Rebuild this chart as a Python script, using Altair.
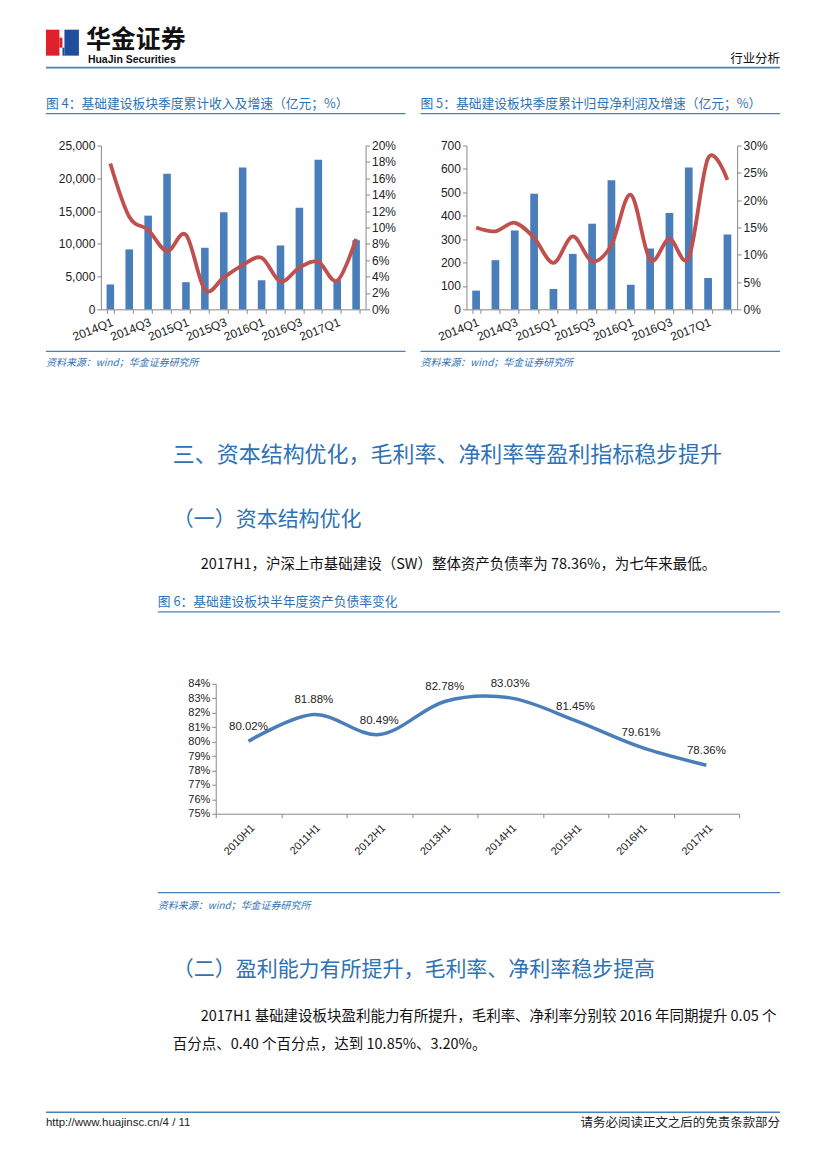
import altair as alt
import pandas as pd

# ---------------- data ----------------
quarters = ["2014Q1", "2014Q2", "2014Q3", "2014Q4", "2015Q1", "2015Q2", "2015Q3",
            "2015Q4", "2016Q1", "2016Q2", "2016Q3", "2016Q4", "2017Q1", "2017Q2"]
revenue = [3800, 9150, 14300, 20700, 4150, 9400, 14800, 21650, 4450, 9750, 15500, 22850, 4450, 10550]
revenue_growth = [17.8, 11.3, 9.7, 7.1, 9.1, 2.4, 3.9, 5.4, 6.3, 3.4, 5.1, 5.8, 3.5, 8.6]
profit = [80, 210, 337, 494, 87, 237, 366, 552, 105, 260, 412, 606, 134, 320]
profit_growth = [15.0, 14.3, 15.85, 13.1, 8.5, 13.35, 8.8, 11.8, 21.0, 9.1, 12.9, 9.5, 27.7, 23.7]
halves = ["2010H1", "2011H1", "2012H1", "2013H1", "2014H1", "2015H1", "2016H1", "2017H1"]
debt_ratio = [80.02, 81.88, 80.49, 82.78, 83.03, 81.45, 79.61, 78.36]

rev_ticks = [0, 5000, 10000, 15000, 20000, 25000]
rev_growth_ticks = [0, 2, 4, 6, 8, 10, 12, 14, 16, 18, 20]
profit_ticks = [0, 100, 200, 300, 400, 500, 600, 700]
profit_growth_ticks = [0, 5, 10, 15, 20, 25, 30]
debt_ticks = [75, 76, 77, 78, 79, 80, 81, 82, 83, 84]

brand_cn = "华金证券"
brand_en = "HuaJin Securities"
doc_type = "行业分析"
fig4_title = "图 4：基础建设板块季度累计收入及增速（亿元；%）"
fig5_title = "图 5：基础建设板块季度累计归母净利润及增速（亿元；%）"
fig6_title = "图 6：基础建设板块半年度资产负债率变化"
source_text = "资料来源：wind；华金证券研究所"
heading3 = "三、资本结构优化，毛利率、净利率等盈利指标稳步提升"
sub1 = "（一）资本结构优化"
body1 = "2017H1，沪深上市基础建设（SW）整体资产负债率为 78.36%，为七年来最低。"
sub2 = "（二）盈利能力有所提升，毛利率、净利率稳步提高"
body2a = "2017H1 基础建设板块盈利能力有所提升，毛利率、净利率分别较 2016 年同期提升 0.05 个"
body2b = "百分点、0.40 个百分点，达到 10.85%、3.20%。"
footer_left = "http://www.huajinsc.cn/4 / 11"
footer_right = "请务必阅读正文之后的免责条款部分"

# ---------------- styles / layout ----------------
CJK = "Noto Sans CJK SC"
LATIN = "Liberation Sans"
BLUE_TXT = "#2e72b5"
BLUE_RULE = "#4a80b8"
BAR = "#4a7ebb"
RED = "#c0504d"
W, H = 811, 1153

dummy = pd.DataFrame({"k": [0]})


def txt(s, x, y, size, color="#111111", font=CJK, align="left", weight="normal", style="normal"):
    # x, y given in page pixels; the chart origin sits at (8, 8)
    return alt.Chart(dummy).mark_text(
        text=s, align=align, baseline="middle", fontSize=size, font=font,
        color=color, fontWeight=weight, fontStyle=style
    ).encode(x=alt.value(x - 8), y=alt.value(y - 8))


def rule(x1, x2, y, color=BLUE_RULE, width=1.2):
    return alt.Chart(dummy).mark_rule(color=color, strokeWidth=width).encode(
        x=alt.value(x1 - 8), x2=alt.value(x2 - 8), y=alt.value(y - 8))


def rect(x1, x2, y1, y2, color):
    return alt.Chart(dummy).mark_rect(color=color).encode(
        x=alt.value(x1 - 8), x2=alt.value(x2 - 8), y=alt.value(y1 - 8), y2=alt.value(y2 - 8))


decor = [
    # header / logo
    rect(45, 58.5, 29, 55, "#e0202a"),
    rect(58.5, 61.5, 37, 47, "#e0202a"),
    rect(63.5, 78, 29, 55, "#1f4e9c"),
    rect(61.5, 63.5, 47, 55, "#1f4e9c"),
    txt(brand_cn, 85, 39.5, 25, weight="bold"),
    txt(brand_en, 87, 59.5, 10.5, font=LATIN, weight="bold"),
    txt(doc_type, 780, 58, 12.5, align="right"),
    rule(45, 780, 67, width=1.8),
    txt(fig4_title, 45, 103, 12.8, color=BLUE_TXT),
    txt(fig5_title, 420, 103, 12.8, color=BLUE_TXT),
    rule(45, 405, 113),
    rule(420, 780, 113),
    # sources of figs 4/5
    rule(45, 405, 351),
    rule(420, 780, 351),
    txt(source_text, 45, 363, 10, color=BLUE_TXT, style="italic"),
    txt(source_text, 420, 363, 10, color=BLUE_TXT, style="italic"),
    # section three
    txt(heading3, 172, 455, 22, color=BLUE_TXT),
    txt(sub1, 172, 520, 21, color=BLUE_TXT),
    txt(body1, 200, 565, 14.5),
    txt(fig6_title, 157, 602, 12.8, color=BLUE_TXT),
    rule(157, 780, 612),
    rule(157, 780, 893),
    txt(source_text, 157, 906, 10, color=BLUE_TXT, style="italic"),
    txt(sub2, 172, 970, 21, color=BLUE_TXT),
    txt(body2a, 200, 1018, 14.5),
    txt(body2b, 172, 1046, 14.5),
    # footer
    rule(45, 780, 1113, width=1.5),
    txt(footer_left, 45, 1124, 11.5, color="#222222", font=LATIN),
    txt(footer_right, 780, 1124, 12.5, color="#222222", align="right"),
]

ODD_QUARTER_LABELS = ("(indexof(datum.value + '', 'Q1') > 0 || indexof(datum.value + '', 'Q3') > 0)"
                      " ? datum.value : ''")


# ---------------- charts 4 and 5 ----------------
def dual_chart(bars, growth, bar_ticks, growth_ticks, px0, px1, py0, py1, bar_fmt):
    """px0..px1, py0 (top)..py1 (bottom) are page pixels of the plot area."""
    df = pd.DataFrame({"q": quarters, "v": bars, "g": growth})
    xr = [px0 - 8, px1 - 8]
    yr = [py1 - 8, py0 - 8]
    xs = alt.Scale(type="band", domain=quarters, range=xr, paddingInner=0.6, paddingOuter=0.3)
    xaxis = alt.Axis(
        title=None, orient="bottom", labelAngle=-22, labelAlign="right", labelBaseline="top",
        tickBand="extent", labelPadding=3, offset=-(H - yr[0]), labelFontSize=12,
        labelExpr=ODD_QUARTER_LABELS,
    )
    b = alt.Chart(df).mark_bar(color=BAR).encode(
        x=alt.X("q:N", scale=xs, axis=xaxis),
        y=alt.Y("v:Q", scale=alt.Scale(domain=[bar_ticks[0], bar_ticks[-1]], range=yr),
                axis=alt.Axis(title=None, orient="left", offset=-xr[0], labelFontSize=12,
                              values=bar_ticks, format=bar_fmt)),
    )
    l = alt.Chart(df).mark_line(color=RED, strokeWidth=3.8, interpolate="cardinal").encode(
        x=alt.X("q:N", scale=xs, axis=None),
        y=alt.Y("g:Q", scale=alt.Scale(domain=[growth_ticks[0], growth_ticks[-1]], range=yr),
                axis=alt.Axis(title=None, orient="right", offset=-(W - xr[1]), labelFontSize=12,
                              values=growth_ticks, labelExpr="datum.value + '%'")),
    )
    return [b, l]


layers4 = dual_chart(revenue, revenue_growth, rev_ticks, rev_growth_ticks, 100, 365, 145, 309, ",d")
layers5 = dual_chart(profit, profit_growth, profit_ticks, profit_growth_ticks, 466, 737, 145, 309, "d")

# ---------------- chart 6 ----------------
df6 = pd.DataFrame({"h": halves, "r": debt_ratio})
x6r = [215 - 8, 739 - 8]
y6r = [814 - 8, 684 - 8]
x6s = alt.Scale(type="band", domain=halves, range=x6r, paddingInner=0, paddingOuter=0)
y6s = alt.Scale(domain=[75, 84], zero=False, range=y6r)
line6 = alt.Chart(df6).mark_line(color=BAR, strokeWidth=3.5, interpolate="cardinal").encode(
    x=alt.X("h:N", scale=x6s,
            axis=alt.Axis(title=None, orient="bottom", labelAngle=-45, labelAlign="right",
                          labelBaseline="top", tickBand="extent", labelPadding=4,
                          offset=-(H - y6r[0]))),
    y=alt.Y("r:Q", scale=y6s,
            axis=alt.Axis(title=None, orient="left", offset=-x6r[0], values=debt_ticks,
                          labelExpr="datum.value + '%'")),
)
lab6 = alt.Chart(df6).transform_calculate(
    label="format(datum.r, '.2f') + '%'"
).mark_text(dy=-14, fontSize=11.5, font=LATIN, color="#222222").encode(
    x=alt.X("h:N", scale=x6s, axis=None),
    y=alt.Y("r:Q", scale=y6s, axis=None),
    text="label:N",
)

chart = alt.layer(*decor, *layers4, *layers5, line6, lab6).resolve_scale(
    x="independent", y="independent"
).properties(
    width=W, height=H, padding=0, background="white"
).configure_view(strokeWidth=0).configure_axis(
    labelFont=LATIN, labelFontSize=11, labelColor="#222222",
    domainColor="#888888", tickColor="#888888", tickSize=4, grid=False,
)

chart.save("out.html", embed_options={"renderer": "svg", "actions": False})
